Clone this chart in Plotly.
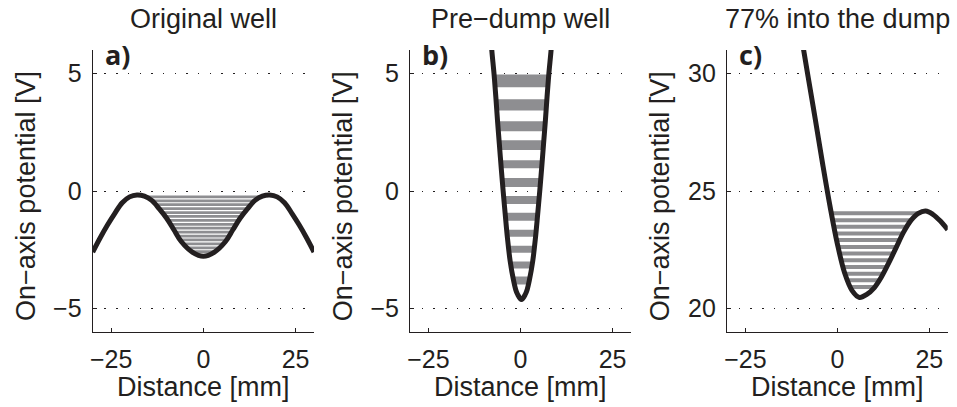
import numpy as np
import plotly.graph_objects as go

W, H = 957, 407

# ---------------- data ----------------
# a) original well
a_x = [-30, -28, -26, -24, -22, -20, -18, -16, -14, -12, -10, -8, -6, -3, 0,
       3, 6, 8, 10, 12, 14, 16, 18, 20, 22, 24, 26, 28, 30]
a_y = [-2.6, -2.0, -1.45, -0.95, -0.5, -0.25, -0.17, -0.22, -0.4, -0.75, -1.15, -1.65, -2.15, -2.6, -2.78,
       -2.6, -2.15, -1.65, -1.15, -0.75, -0.4, -0.22, -0.17, -0.25, -0.5, -0.95, -1.45, -2.0, -2.6]
a_levels = [-0.25, -0.42, -0.58, -0.75, -0.92, -1.08, -1.25, -1.42, -1.58,
            -1.75, -1.92, -2.08, -2.25, -2.42, -2.58]

# b) pre-dump well
b_x = [-7.95, -7.8, -7.2, -6.7, -6.25, -5.75, -5.25, -4.72, -4.15, -3.55, -2.8, -1.9, -1.3, -0.8, 0.25,
       1.3, 1.8, 2.4, 3.3, 4.05, 4.65, 5.22, 5.75, 6.25, 6.75, 7.2, 7.7, 8.3, 8.45]
b_y = [6.4, 6.0, 5.0, 4.0, 3.0, 2.0, 1.0, 0.0, -1.0, -2.0, -3.0, -3.8, -4.2, -4.4, -4.62,
       -4.4, -4.2, -3.8, -3.0, -2.0, -1.0, 0.0, 1.0, 2.0, 3.0, 4.0, 5.0, 6.0, 6.4]
b_band_top = [4.96, 3.90, 2.97, 2.16, 1.31, 0.55, -0.21, -0.93, -1.65, -2.33, -3.00, -3.64]
b_band_bot = [4.41, 3.43, 2.54, 1.74, 0.97, 0.17, -0.55, -1.27, -1.95, -2.63, -3.30, -3.98]

# c) 77% into the dump
c_x = [-9.6, -8, -6, -4, -2, 0, 2, 4, 6, 8, 10, 12, 14, 16, 18, 20, 22, 24, 26, 28, 30]
c_y = [31.4, 29.9, 28.05, 26.15, 24.35, 22.75, 21.5, 20.76, 20.47, 20.6, 20.88, 21.35, 21.95,
       22.6, 23.25, 23.75, 24.05, 24.15, 24.0, 23.72, 23.35]
c_levels = [24.05, 23.76, 23.48, 23.19, 22.91, 22.62, 22.34, 22.05, 21.77, 21.48, 21.2, 20.91]

titles = ["Original well", "Pre\u2212dump well", "77% into the dump"]
letters = ["a)", "b)", "c)"]
x_ticks = [-25, 0, 25]
y_ticks = [[-5, 0, 5], [-5, 0, 5], [20, 25, 30]]
y_ranges = [[-6, 6], [-6, 6], [19, 31]]

CURVE = "#231f20"
STRIPE = "#8e8e91"
FONT = "Liberation Sans, Arial, Helvetica, sans-serif"


def well_edges(xs, ys, level):
    """Left and right crossings of a level around the well bottom."""
    xs = np.asarray(xs, float)
    ys = np.asarray(ys, float)
    imin = int(np.argmin(ys))
    left = right = None
    for i in range(imin, 0, -1):
        y0, y1 = ys[i], ys[i - 1]
        if (y0 - level) * (y1 - level) <= 0 and y0 != y1:
            left = xs[i] + (level - y0) * (xs[i - 1] - xs[i]) / (y1 - y0)
            break
    for i in range(imin, len(xs) - 1):
        y0, y1 = ys[i], ys[i + 1]
        if (y0 - level) * (y1 - level) <= 0 and y0 != y1:
            right = xs[i] + (level - y0) * (xs[i + 1] - xs[i]) / (y1 - y0)
            break
    return left, right


fig = go.Figure()

# pixel geometry of the three plot areas
x_px = [(90, 312), (408.3, 630), (726.3, 947.7)]
y_px = (50, 332)


def px(v):
    return v / W


def py(v):
    return 1 - v / H


# striped levels in a) and c)
for k, (xs, ys, levels, width) in enumerate([(a_x, a_y, a_levels, 2.8), (c_x, c_y, c_levels, 4.0)]):
    idx = [1, 3][k]
    sx, sy = [], []
    for lv in levels:
        l, r = well_edges(xs, ys, lv)
        sx += [l, r, None]
        sy += [lv, lv, None]
    fig.add_trace(go.Scatter(x=sx, y=sy, mode="lines", line=dict(color=STRIPE, width=width),
                             xaxis=f"x{idx if idx > 1 else ''}", yaxis=f"y{idx if idx > 1 else ''}",
                             hoverinfo="skip", showlegend=False))

# filled bands in b)
for top, bot in zip(b_band_top, b_band_bot):
    lt, rt = well_edges(b_x, b_y, top)
    lb, rb = well_edges(b_x, b_y, bot)
    fig.add_trace(go.Scatter(x=[lt, rt, rb, lb, lt], y=[top, top, bot, bot, top], mode="lines",
                             fill="toself", fillcolor=STRIPE, line=dict(width=0, color=STRIPE),
                             xaxis="x2", yaxis="y2", hoverinfo="skip", showlegend=False))

# potential curves
for i, (xs, ys) in enumerate([(a_x, a_y), (b_x, b_y), (c_x, c_y)]):
    suffix = "" if i == 0 else str(i + 1)
    fig.add_trace(go.Scatter(x=xs, y=ys, mode="lines",
                             line=dict(color=CURVE, width=5, shape="spline", smoothing=1.0),
                             xaxis="x" + suffix, yaxis="y" + suffix, showlegend=False))

layout = dict(
    width=W, height=H,
    margin=dict(l=0, r=0, t=0, b=0),
    paper_bgcolor="white", plot_bgcolor="white",
    font=dict(family=FONT, size=25, color="#231f20"),
    showlegend=False,
)

annotations = []
for i in range(3):
    suffix = "" if i == 0 else str(i + 1)
    x0, x1 = x_px[i]
    layout["xaxis" + suffix] = dict(
        domain=[px(x0), px(x1)], range=[-30, 30], anchor="y" + suffix,
        tickmode="array", tickvals=x_ticks, ticktext=["\u221225", "0", "25"],
        ticks="inside", ticklen=4, tickcolor="#231f20", tickwidth=1,
        showline=True, linecolor="#231f20", linewidth=1.2, mirror=False,
        showgrid=False, zeroline=False, ticklabelstandoff=5,
        tickfont=dict(size=25, family=FONT),
    )
    layout["yaxis" + suffix] = dict(
        domain=[py(y_px[1]), py(y_px[0])], range=y_ranges[i], anchor="x" + suffix,
        tickmode="array", tickvals=y_ticks[i],
        ticktext=[str(v).replace("-", "\u2212") for v in y_ticks[i]],
        ticks="inside", ticklen=4, tickcolor="#231f20", tickwidth=1,
        showline=True, linecolor="#231f20", linewidth=1.2, mirror=False,
        showgrid=True, gridcolor="#231f20", gridwidth=1.2, griddash="1.4px,10.3px",
        zeroline=False, ticklabelstandoff=5,
        tickfont=dict(size=25, family=FONT),
    )
    cx = (x0 + x1) / 2
    annotations.append(dict(text=titles[i], x=px(cx), y=py(19), xref="paper", yref="paper",
                            xanchor="center", yanchor="middle", showarrow=False,
                            font=dict(size=27, family=FONT)))
    annotations.append(dict(text=f"<b>{letters[i]}</b>", x=px(x0 + 10), y=py(55), xref="paper", yref="paper",
                            xanchor="left", yanchor="middle", showarrow=False,
                            font=dict(size=27, family="Open Sans, sans-serif", color="#231f20")))
    annotations.append(dict(text="Distance [mm]", x=px(cx), y=py(387), xref="paper", yref="paper",
                            xanchor="center", yanchor="middle", showarrow=False,
                            font=dict(size=27, family=FONT)))
    annotations.append(dict(text="On\u2212axis potential [V]", x=px(x0 - 67), y=py(196),
                            xref="paper", yref="paper", xanchor="center", yanchor="middle",
                            textangle=-90, showarrow=False, font=dict(size=27, family=FONT)))

layout["annotations"] = annotations
fig.update_layout(**layout)
fig.write_html("out.html")
